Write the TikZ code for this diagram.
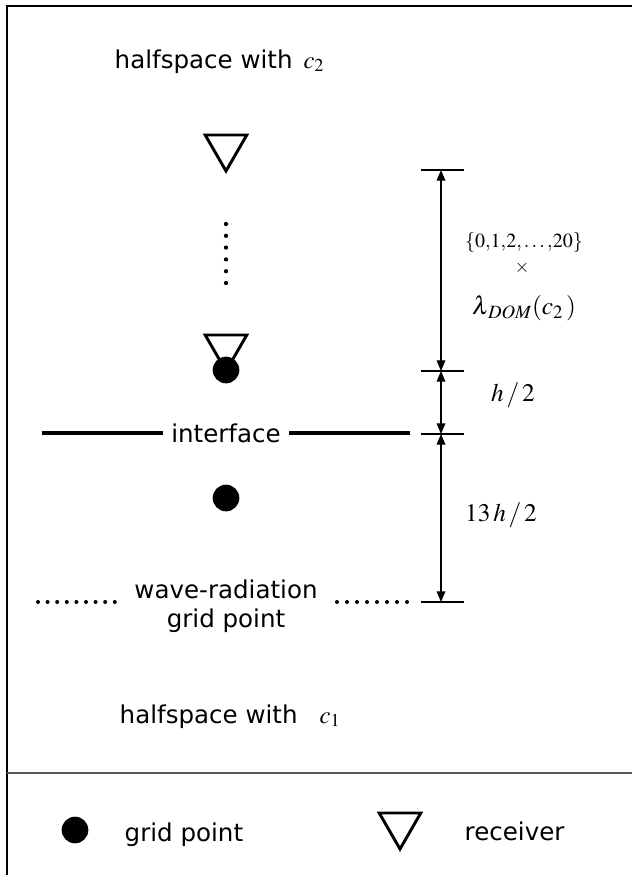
\documentclass[tikz,border=0pt]{standalone}
\usepackage{mathptmx}
\usepackage[no-math]{fontspec}
\setmainfont{DejaVu Sans}
\usepackage{tikz}
\usetikzlibrary{arrows.meta,shapes.geometric}

\tikzset{
  recv/.style={regular polygon,regular polygon sides=3,shape border rotate=180,draw,line width=2.2pt,inner sep=0pt,minimum size=36pt},
  gridpt/.style={circle,fill,inner sep=0pt,minimum size=20pt},
  dimline/.style={{Triangle[length=8pt,width=6.5pt]}-{Triangle[length=8pt,width=6.5pt]},line width=0.9pt},
  dimtick/.style={line width=0.8pt},
  lbl/.style={font=\fontsize{18.4}{22}\selectfont},
  mlbl/.style={font=\fontsize{19}{22}\selectfont,inner sep=0pt}
}

\begin{document}
\begin{tikzpicture}[x=0.75pt,y=-0.75pt,>=Stealth]
  \useasboundingbox (0,0) rectangle (632,875);
  \draw[line width=1.5pt] (7,875) -- (7,6) -- (632,6);
  \draw[gray!70!black,line width=1.1pt] (7,773) -- (632,773);
  \node[lbl,anchor=base west] (hs2) at (110,68) {halfspace with\hspace{0.45em}$c_2$};
  \node[lbl,anchor=base west] (hs1) at (115,723) {halfspace with\hspace{0.9em}$c_1$};
  \node[recv] (r1) at (226,147) {};
  \foreach \i in {0,...,5}{\fill (226,224+\i*11.8) circle (1.6pt);}
  \node[recv] (r2) at (226,347) {};
  \node[gridpt] (g1) at (226,370) {};
  \node[gridpt] (g2) at (226,498) {};
  \node[lbl,inner sep=6pt] (intf) at (226,433) {interface};
  \coordinate (il) at (42,433); \coordinate (ir) at (410,433);
  \draw[line width=3pt] (il) -- (intf.west) (intf.east) -- (ir);
  \node[lbl,align=center] (wave) at (226,606) {wave-radiation\\grid point};
  \foreach \i in {0,...,8}{\fill (38+\i*9.6,602) circle (1.5pt);}
  \foreach \i in {0,...,7}{\fill (337+\i*10,602) circle (1.5pt);}
  \foreach \n/\y in {d1/170,d2/371,d3/434,d4/602}{
    \coordinate (\n) at (441,\y);
    \draw[dimtick] ([xshift=-15pt]\n) -- ([xshift=17pt]\n);}
  \draw[dimline] (d1) -- (d2); \draw[dimline] (d2) -- (d3); \draw[dimline] (d3) -- (d4);
  \node[mlbl,font=\fontsize{15}{17}\selectfont] (set) at (524,243) {$\{0{,}1{,}2{,}\ldots{,}20\}$};
  \node[mlbl,font=\fontsize{14}{17}\selectfont] (tms) at (522,268) {$\times$};
  \node[mlbl] (lam) at (524,308) {$\lambda_{\,DOM}(c_2\,)$};
  \node[mlbl] (hh) at (513,395) {$h\,/\,2$};
  \node[mlbl] (hh13) at (501,515) {$13\,h\,/\,2$};
  \node[gridpt] (lg) at (75,830) {};
  \node[lbl,anchor=base west] (lgt) at (120,841) {grid point};
  \node[recv] (lr) at (400,825) {};
  \node[lbl,anchor=base west] (lrt) at (460,840) {receiver};
\end{tikzpicture}
\end{document}
